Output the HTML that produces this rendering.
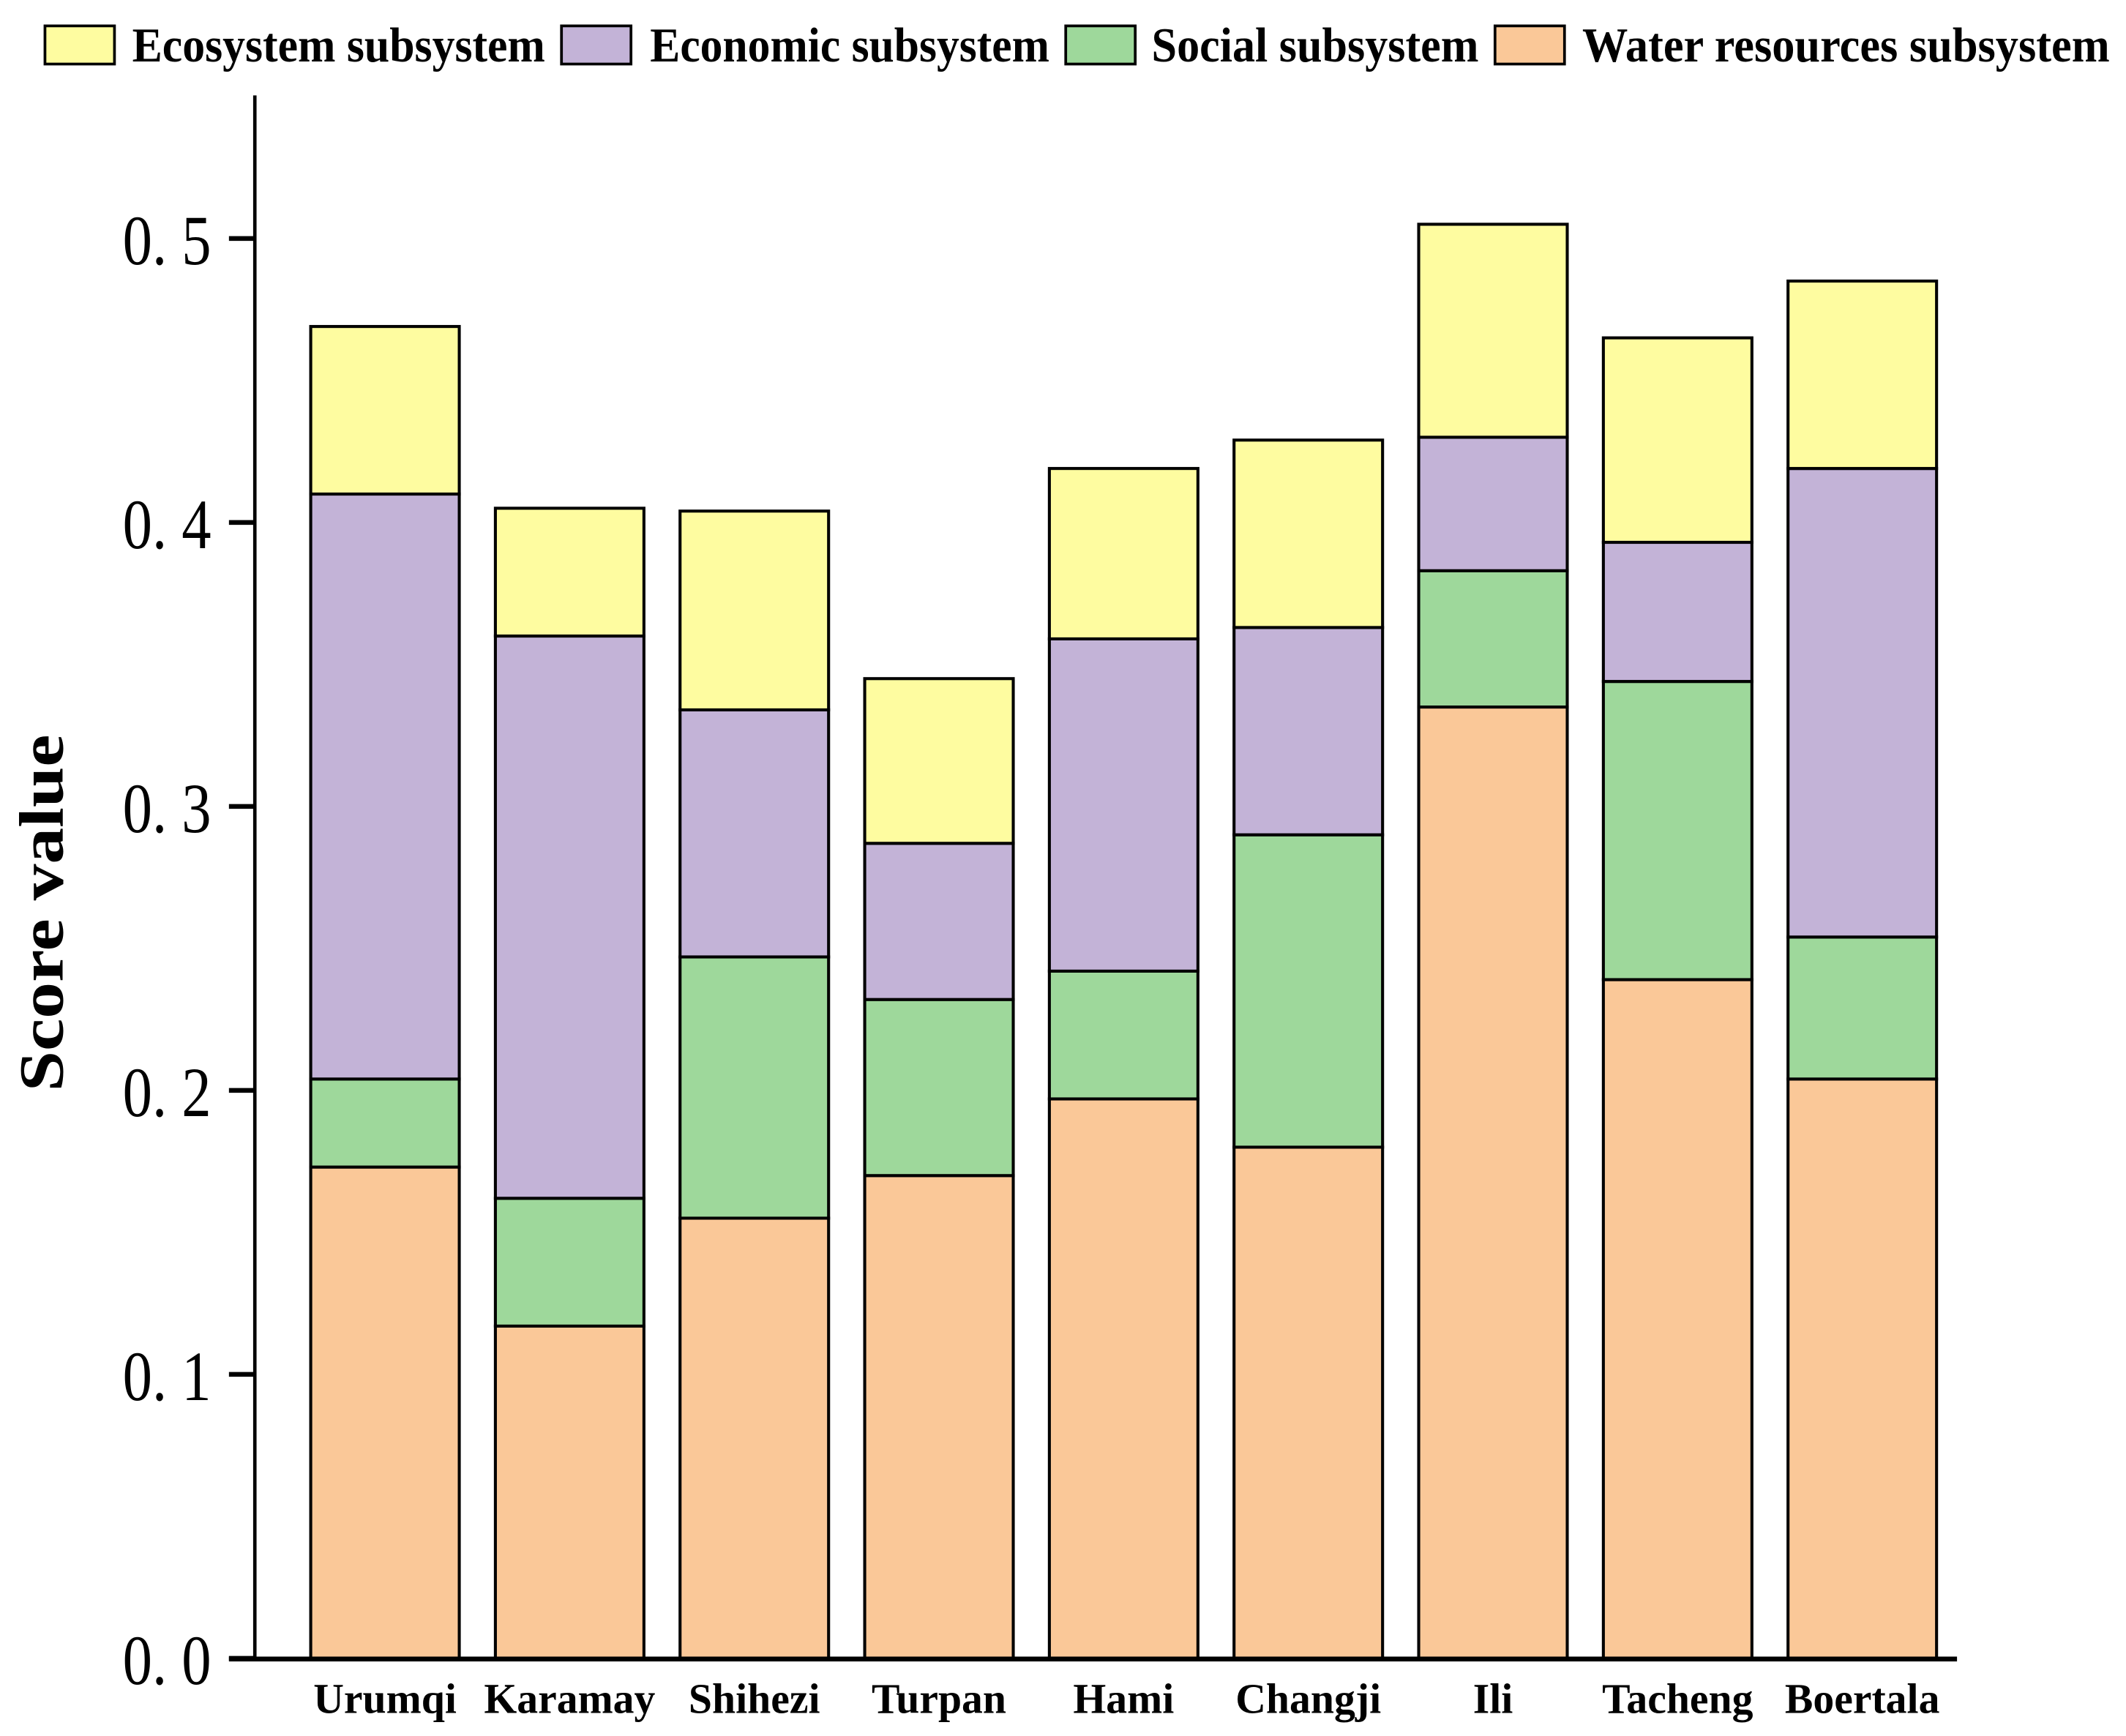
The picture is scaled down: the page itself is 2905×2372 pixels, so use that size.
<!DOCTYPE html>
<html><head><meta charset="utf-8"><style>html,body{margin:0;padding:0;background:#fff}svg{display:block}</style></head>
<body>
<svg id="chart" width="2905" height="2372" viewBox="0 0 1560 1274" preserveAspectRatio="none" xmlns="http://www.w3.org/2000/svg" font-family="'Liberation Serif', serif">
<g id="legend"></g>
<g id="bars"></g>
<g id="axes"></g>
</svg>
<script>
const categories = ["Urumqi","Karamay","Shihezi","Turpan","Hami","Changji","Ili","Tacheng","Boertala"];
const water = [0.173,0.117,0.155,0.170,0.197,0.180,0.335,0.239,0.204];
const social = [0.031,0.045,0.092,0.062,0.045,0.110,0.048,0.105,0.050];
const economic = [0.206,0.198,0.087,0.055,0.117,0.073,0.047,0.049,0.165];
const ecosystem = [0.059,0.045,0.070,0.058,0.060,0.066,0.075,0.072,0.066];
const yTicks = [0,0.1,0.2,0.3,0.4,0.5];
const yTickLabels = ["0. 0","0. 1","0. 2","0. 3","0. 4","0. 5"];
const seriesNames = ["Ecosystem subsystem","Economic subsystem","Social subsystem","Water resources subsystem"];

const NS="http://www.w3.org/2000/svg";
const colors={water:"#FAC898",social:"#9ED89B",economic:"#C3B3D7",ecosystem:"#FEFCA0"};
const y0=1217, pxPerUnit=2084;
function yScale(v){return y0 - v*pxPerUnit;}
function xScale(i){return 228 + i*135.5;}
const barW=109;
function mk(tag,attrs,parent){const e=document.createElementNS(NS,tag);for(const k in attrs)e.setAttribute(k,attrs[k]);parent.appendChild(e);return e;}

const bars=document.getElementById('bars');
const stack=[["water",water],["social",social],["economic",economic],["ecosystem",ecosystem]];
categories.forEach((c,i)=>{
  let cum=0;
  stack.forEach(([key,arr])=>{
    const yb=yScale(cum), yt=yScale(cum+arr[i]);
    const r=mk('rect',{x:xScale(i),y:yt,width:barW,height:yb-yt,fill:colors[key],stroke:"#000","stroke-width":2.2},bars);
    
    
    cum+=arr[i];
  });
  const t=mk('text',{x:xScale(i)+barW/2,y:1257,"text-anchor":"middle","font-size":31,"font-weight":"bold"},bars);
  t.textContent=c;
  
  
});

const axes=document.getElementById('axes');
let l=mk('line',{x1:187,y1:70,x2:187,y2:1218,stroke:"#000","stroke-width":2.5},axes);


l=mk('line',{x1:168,y1:1217.5,x2:1436,y2:1217.5,stroke:"#000","stroke-width":3.5},axes);


yTicks.forEach((v,i)=>{
  const tk=mk('line',{x1:168,y1:yScale(v),x2:187,y2:yScale(v),stroke:"#000","stroke-width":3.5},axes);
  
  
  const t=mk('text',{x:155,y:yScale(v)+19,"text-anchor":"end","font-size":52,textLength:65,lengthAdjust:"spacingAndGlyphs"},axes);
  t.textContent=yTickLabels[i];
  
  
});
const yt=mk('text',{x:0,y:0,transform:"translate(46,670) rotate(-90)","text-anchor":"middle","font-size":46,"font-weight":"bold",textLength:262,lengthAdjust:"spacingAndGlyphs"},axes);
yt.textContent="Score value";



const legend=document.getElementById('legend');
const lgBox=[33,412,782,1097], lgText=[[97,303],[477,293],[845,240],[1161,387]];
const lgColors=[colors.ecosystem,colors.economic,colors.social,colors.water];
seriesNames.forEach((n,i)=>{
  const r=mk('rect',{x:lgBox[i],y:19,width:51,height:28,fill:lgColors[i],stroke:"#000","stroke-width":2},legend);
  
  
  const t=mk('text',{x:lgText[i][0],y:45,"font-size":36,"font-weight":"bold",textLength:lgText[i][1],lengthAdjust:"spacingAndGlyphs"},legend);
  t.textContent=n;
  
  
});
</script>
</body></html>
